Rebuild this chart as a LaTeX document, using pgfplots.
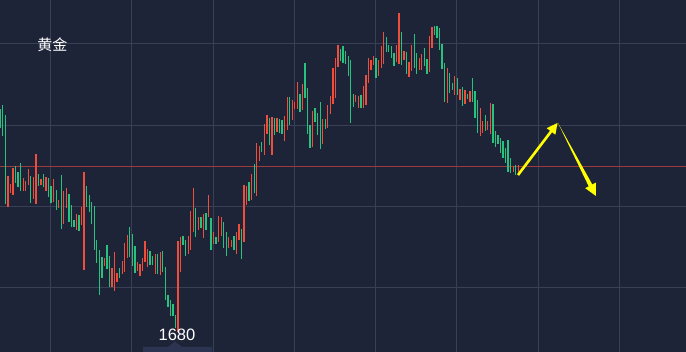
\documentclass[border=0pt]{standalone}
\usepackage{pgfplots}
\pgfplotsset{compat=1.18}
\usepackage{pgfplotstable}
\usepackage{fontspec}
\setmainfont{Liberation Sans}
\newfontfamily\cjk{Noto Sans CJK SC}
\usetikzlibrary{arrows.meta}
\definecolor{bg}{HTML}{1E2438}
\definecolor{gridc}{HTML}{394055}
\definecolor{upc}{HTML}{F04E3C}
\definecolor{dnc}{HTML}{26C27E}
\definecolor{hl}{HTML}{9C3A40}
\definecolor{tabc}{HTML}{2B3450}
\definecolor{arr}{HTML}{FFFF00}

% candle index k, top (hi) and bottom (lo) of each bar, in screen units (0 = top)
\pgfplotstableread{
k hi lo
3 176 207
4 184 193
5 168 195
9 178 191
10 181 191
11 169 185
13 177 199
14 154 204
16 179 185
18 177 191
21 179 202
23 200 208
25 191 224
26 188 208
30 214 230
32 207 225
33 172 270
41 258 266
44 268 287
45 252 291
46 273 282
48 261 274
49 243 272
50 235 258
54 262 271
55 264 276
56 258 271
57 241 262
58 249 267
61 254 274
63 252 275
70 241 332
71 237 272
74 236 254
75 211 250
76 188 232
78 217 230
80 214 238
82 195 217
84 232 244
86 216 242
87 217 236
90 237 248
91 240 247
93 232 254
94 224 240
96 185 242
97 186 205
99 174 200
101 143 196
102 146 161
104 124 155
105 115 134
107 117 155
109 118 132
112 116 141
113 97 130
115 100 120
116 102 109
117 82 109
119 84 110
123 111 147
127 119 144
129 105 128
130 96 114
131 68 104
132 58 98
133 45 67
140 95 102
141 96 108
143 86 108
144 75 105
145 58 83
146 60 70
147 56 65
149 60 76
150 46 68
151 32 64
156 45 62
157 13 64
159 51 60
161 62 77
162 45 71
165 58 70
166 54 70
169 36 72
170 27 48
176 68 103
179 76 95
181 89 100
183 90 104
185 91 102
189 108 136
190 121 133
192 121 130
193 103 134
202 166 172
204 165 172
}\redc

\pgfplotstableread{
k hi lo
0 109 128
1 105 136
2 115 204
6 166 183
7 172 187
8 163 191
12 176 203
15 174 186
17 174 187
19 178 197
20 186 203
22 190 210
24 175 229
27 194 222
28 205 227
29 220 227
31 215 231
34 186 207
35 195 212
36 202 224
37 206 250
38 240 263
39 250 295
40 257 278
42 245 269
43 256 287
47 268 278
51 227 257
52 234 266
53 246 273
59 251 265
60 256 265
62 254 274
64 251 272
65 267 300
66 295 307
67 300 316
68 304 316
69 315 328
72 236 245
73 240 256
77 208 237
79 217 228
81 213 230
83 218 250
85 237 244
88 222 248
89 232 256
92 236 250
95 229 259
98 182 201
100 164 193
103 142 152
106 118 145
108 118 135
110 119 133
111 120 134
114 97 125
118 94 112
120 63 98
121 88 134
122 125 148
124 108 122
125 113 135
126 102 149
128 119 129
134 49 61
135 46 63
136 51 64
137 56 76
138 60 123
139 94 107
142 95 108
148 58 78
152 37 52
153 45 52
154 46 58
155 53 66
158 32 65
160 52 74
163 34 68
164 53 74
167 48 66
168 59 74
171 26 35
172 26 38
173 28 50
174 44 69
175 63 102
177 73 93
178 83 90
180 78 95
182 87 106
184 94 99
186 78 102
187 91 118
188 100 133
191 115 131
194 104 143
195 131 147
196 135 144
197 138 153
198 141 158
199 148 163
200 140 172
201 158 173
203 165 175
}\greenc

\begin{document}
\begin{tikzpicture}
\begin{axis}[
  at={(0,0)}, anchor=north west,
  width=686pt, height=352pt, scale only axis,
  xmin=-0.12, xmax=270.06, ymin=0, ymax=352, y dir=reverse,
  axis background/.style={fill=bg},
  axis line style={draw=none},
  xtick={19.8,51.8,83.8,115.8,147.8,179.8,211.8,243.8},
  ytick={43.3,125.3,206.3,287},
  xticklabels={}, yticklabels={},
  major tick length=0pt,
  grid=major,
  major grid style={gridc, line width=0.9pt},
]
\addplot[hl, line width=0.9pt] coordinates {(-1,166) (272,166)};
\addplot[upc, line width=1.3pt, quiver={u=0, v=\thisrow{lo}-\thisrow{hi}}] table[x=k, y=hi] {\redc};
\addplot[dnc, line width=1.3pt, quiver={u=0, v=\thisrow{lo}-\thisrow{hi}}] table[x=k, y=hi] {\greenc};
\end{axis}
\begin{scope}[x=1pt, y=-1pt]
  % price tab at the bottom
  \fill[tabc] (143,353) -- (143,347) -- (168,347) -- (175,341.5) -- (182,347) -- (212,347) -- (212,353) -- cycle;
  \node[text=white, font=\fontsize{16.5}{18}\selectfont, inner sep=0pt] at (177,335) {1680};
  \node[text=white, font=\cjk\fontsize{15}{16}\selectfont, inner sep=0pt] at (52.5,45) {黄金};
  % arrows
  \draw[arr, line width=2.6pt, -{Triangle[length=11pt, width=10pt]}] (518,175) -- (557.7,122.7);
  \fill[arr] (558,123) -- (592.3,184.5) -- (595.8,182.6) -- (596,196) -- (585.2,188.2) -- (588.7,186.3) -- cycle;
\end{scope}
\pgfresetboundingbox
\path (0pt,0pt) rectangle (686pt,-352pt);
\end{tikzpicture}
\end{document}
